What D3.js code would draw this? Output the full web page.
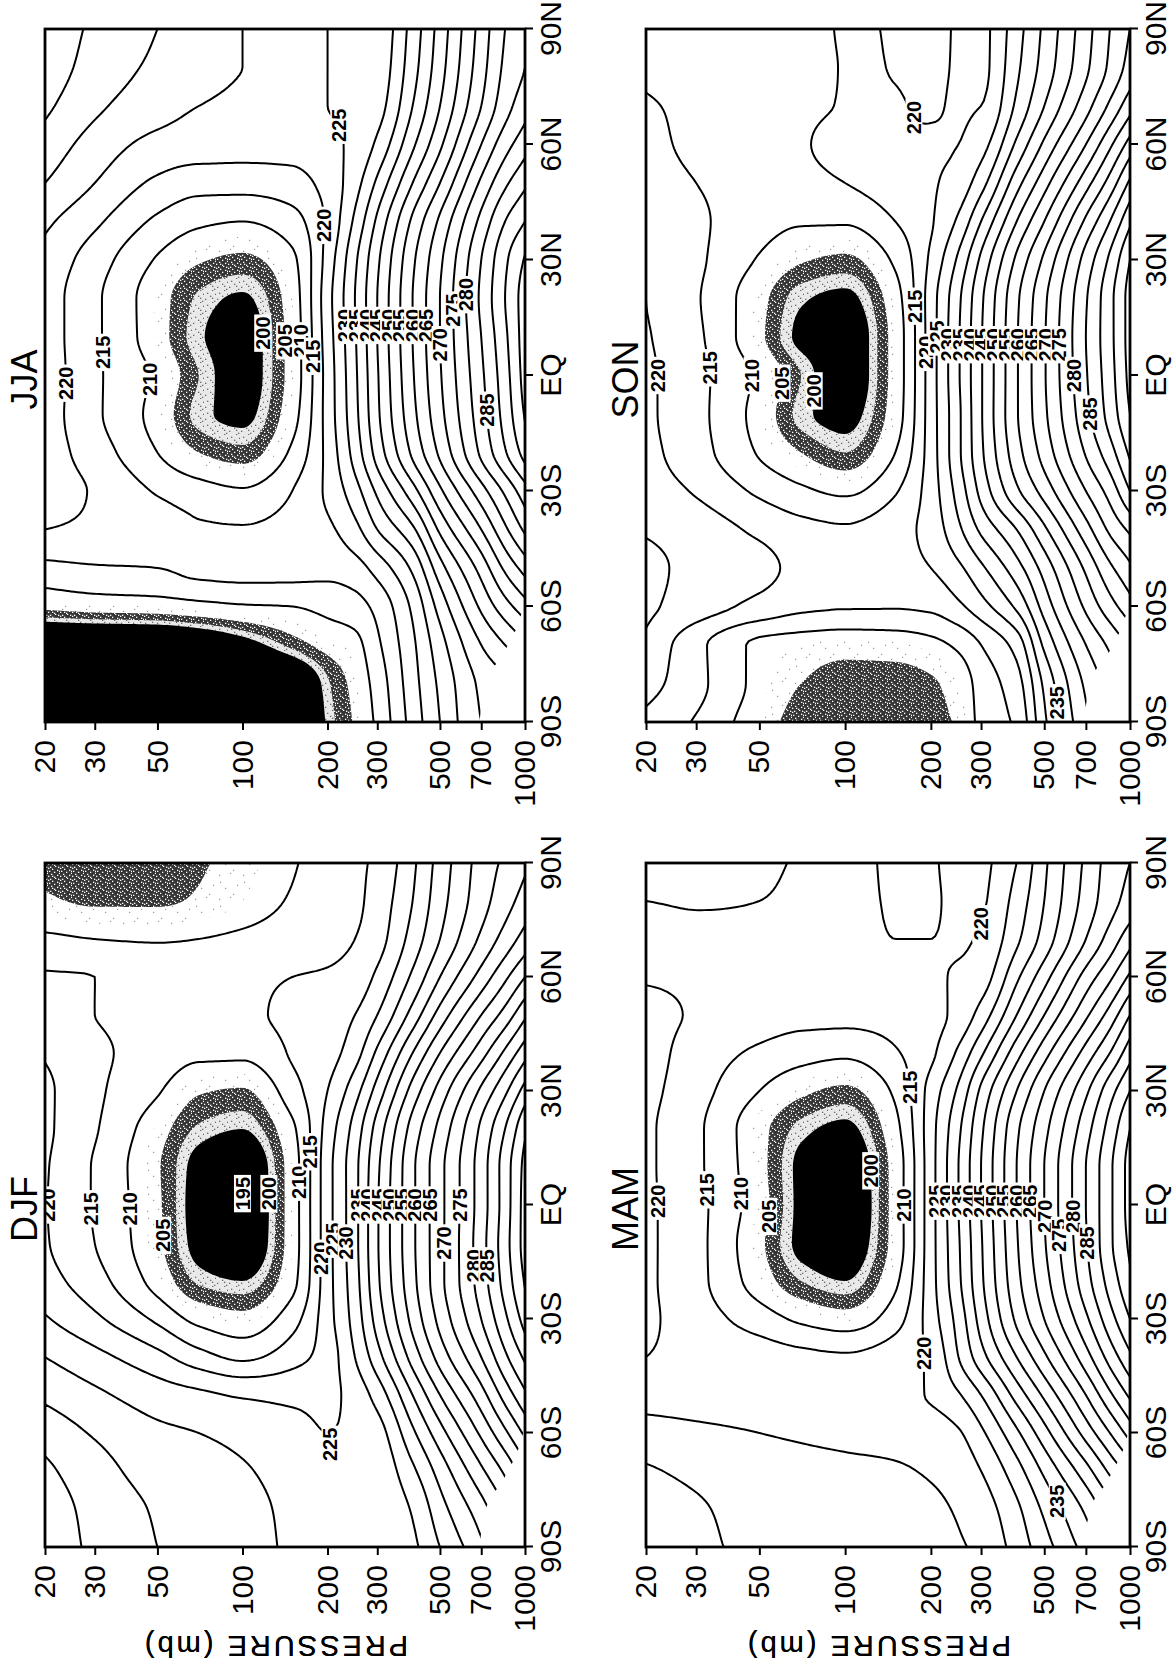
<!DOCTYPE html>
<html><head><meta charset="utf-8">
<script src="https://cdn.jsdelivr.net/npm/d3@7"></script>
<style>html,body{margin:0;padding:0;background:#fff;}svg{display:block;}</style>
</head><body>
<script>
// ---------------- DATA ----------------
const pressures = [1000, 850, 700, 500, 400, 300, 250, 200, 150, 100, 70, 50, 30, 20];
const latitudes = [-90,-80,-70,-60,-50,-40,-30,-20,-10,0,10,20,30,40,50,60,70,80,90];
const pressureTicks = [1000, 700, 500, 300, 200, 100, 50, 30, 20];
const latTicks = [-90, -60, -30, 0, 30, 60, 90];
const latTickLabels = ["90S", "60S", "30S", "EQ", "30N", "60N", "90N"];
const seasonNames = ["DJF", "JJA", "MAM", "SON"];
const contourLevels = [210,215,220,225,230,235,240,245,250,255,260,265,270,275,280,285,290,295,300,305];
const shadeLevels = [207.5, 205, 202, 200];
// below-ground (Antarctic) region left blank
const maskLat = [-90, -84, -80, -76, -74, -70, -66, -62, -58];
const maskPressure = [690, 705, 725, 765, 815, 870, 930, 970, 1000];

// zonal mean temperature (K): one profile per latitude (90S..90N), values at `pressures`
const tempDJF = [
 [257,251,244,235,229,225.8,225.3,226.3,229,232,233.5,235,239,243],
 [262,255,248,238,230.5,226,225.4,226.2,228.8,231.5,233,234.5,238.5,242.5],
 [268,261,254,242,234,226.5,225.3,225.8,228,230.5,232,233,237,241],
 [276,269,261,248,239,228,225.8,225,226.5,228.5,230,231,234.5,238],
 [284,277,268,255,245,232,227,224,224,224.5,226,227.5,231,234],
 [291,284,275,262,252,238,230,222.5,218,214,217,221.5,226.5,230],
 [297,289,280,266.5,256.5,242,232,223,213,206.5,208.5,214,221,225.5],
 [300.5,292,282.5,268.5,258.5,244,233,223,208.5,200,201.5,208,217,222],
 [302,293,283,268.5,259,244.5,233.5,223,207.5,196,198.5,206,215,220.5],
 [302,292.5,282.5,268.5,259,244.5,233.5,223,207.5,195.5,198,205.8,214.5,220.3],
 [301.5,292.5,282.5,268.5,259,244,233.5,223,207.5,196,198.5,205.5,214.5,220.5],
 [299,290,281,266.5,257,242,232,222,209,200,201.5,207,215.5,221],
 [292,284,276,262,252,237,228,220,213,204.5,205.5,210.5,216,221],
 [283,276,268,255,245,231,223,218,215.5,211,211,213,216,219.5],
 [274,267,260,247,237,225,220,217,216,214,213,213.5,215,217],
 [265,259,252,240,231,221,217,215.5,215,214,213.5,214,215,215.5],
 [257,252,246,235,227,218,215,213.5,212.5,211,210,209.5,210,211],
 [252,248,243,233,225,217,214,212.5,210.5,207.5,205.5,204.5,204.5,205.5],
 [249,246,242,232,224,216,214,212.5,209.5,206.5,204.5,203,203,204]
];
const tempJJA = [
 [244,242,240,230,222,211,205.5,200.5,191,187.5,186.5,186,186,186],
 [246,244,241,231,223,212,206.5,201.5,193,189,188,187,187,187],
 [254,250,245,233,224,214,208.5,206.5,203,197.5,194,192,191.5,191],
 [263,258,251,237,226,216.5,213,211.5,210,209.5,208.5,207.5,207,206],
 [272,266,257,243,231,222,218,216.5,216.5,216.5,216,215,214.5,213.5],
 [281,274,265,251,239,230,223.5,219,216.5,215.3,215.5,217.5,219,220],
 [288,281,273,259,248,236,228,221,215,210.5,212,214.5,219.5,222.5],
 [297,289.5,281,266,256,242,232,221.5,211,203,205,210,217.5,222.5],
 [300.5,292,283,268.5,258.5,244,233.5,222,208,199,201,208,216,222.5],
 [302,293,284,269.5,259.5,244.5,234,222,207,198,202,209,216,223],
 [302.5,294,285,270,260,245,234.5,222.5,207,198,200.5,207,216,222.5],
 [302.5,295,286,270,260,245,235,223,207.5,199.5,201.5,207,216,222.5],
 [300.5,294,285,269,259,244,234,222,209,204,205.5,209.5,217.5,223.5],
 [295,290,281.5,266,256,241,231,221,213,210,211,214,221,226],
 [289,284,276,260,250,236,228,222,218,217,217,219,225,230],
 [283,278,270,254,244,231,226,224,222,222,222.5,223.5,228,233],
 [278,273,265,250,240,228,225.5,225,224,224,225,227,231,236],
 [275,271,263,248,238,227,225.5,225,224.5,225,227,229,233,238],
 [274,270,262,247,237,226.5,225.5,225,224.5,225,227,230,234,239]
];
const tempMAM = [
 [247,243,237,228,222,216,214.5,213,212.5,212,211.5,211,209,207],
 [253,248,241,231,224,217.5,215.5,214,213,212.5,212,211.5,209.5,208],
 [262,256,248,236,228,220,217,215.5,214.5,214,213.5,213,211,209.5],
 [272,265,257,243,234,224,219.5,217.5,216.5,216,215.5,215,214,213],
 [281,274,265,251,242,230,224.5,220.5,218.5,217.5,217,217,217,217],
 [289,282,273,259,250,238,230,221,217.5,215.5,216,217,218.5,220],
 [295,288,279,265,256,242,232,222.5,213,207,209,212.5,217.5,221],
 [299,292,283,268,258.5,244,234,223,209,200,202,207.5,216.5,221],
 [301,294,284.5,269.5,259.5,244.5,234.5,223,207,197,199,206,216.5,221],
 [302,294,285,270,260,245,235,223,207,196,199,207,216.5,221],
 [302,294,285,270,260,245,235,223,207,196.5,199,206.5,216,221],
 [300,292,283,268.5,259,244,234,223,208.5,199,201,206.5,216,221],
 [295,288,279,265,255,241,231,222,211,204,206,210,217,221.5],
 [288,280,272,258,248,234,226,219,214.5,211,212,214,218,222],
 [280,272,264,250,240,227,221.5,218.5,217,216.5,216.5,217.5,219.5,221.5],
 [271,264,257,243,234,222.5,220.5,219.5,219,218.5,218,218.5,219,219.5],
 [263,257,250,237,229,220.5,219.5,220,220,218,217,216.5,216.5,217],
 [257,253,247,235,227,219.5,219,220.5,220.5,217.5,216,215,214.5,215],
 [255,252,246,234,225,219,218.5,220.5,221,217,215.5,214,212,211]
];
const tempSON = [
 [255,250,244,229,216,211.5,205.6,203.8,203,202.5,203.5,207,214.5,218.5],
 [257,252,246,231,218,212,207,204.5,203.5,203.5,205,208.5,216.5,222],
 [261,256,250,236,222,215,211,208.5,207,206.5,207.5,209,216.5,224],
 [268,263,256,242,231,223,219,216,215.3,215.3,216,218.5,222.5,226],
 [274,269,261,247,238,229,224,220,218,217,218.5,221.5,223.5,226.5],
 [281,276,268,254,245,236,229,222,218,215.5,216.5,219,222.5,224.5],
 [290,282,275,262,254,241.5,232,222.5,214.5,209,211,214,219.5,222.5],
 [296,288,280.5,267,258,244,234,222.5,210,202,205,209.5,217,221.5],
 [300,292,283.5,269,259.5,244.5,234,222.5,207.5,198.5,201,208,216.5,221],
 [301.5,293,284.5,269.5,259.5,244.5,234.5,222.5,207,197,202,209,216.5,221],
 [302,293.5,285,269.5,259.5,244.5,234.5,222.5,207,197,199,206,216,220.5],
 [302,293.5,284.5,269,259,244,234,222.5,208,199,200.5,206.5,215.5,220],
 [300,291,282,266,256,241,231,221,211,204,205.5,209.5,216,220],
 [294,285,276,260,250,235,226,219.5,215,210.5,210.5,212,216,219.5],
 [286,277,268,253,243,228,222,219.5,218,215,213.5,213,215,218],
 [277,269,260,246,236,223,220,219.5,219.5,217,214.5,213,214,216.5],
 [268,261,253,240,231,220,219.5,220.5,219.5,215.5,214,213.5,214,215.5],
 [262,256,249,237,229,219,219.5,221,220.5,215.5,213,212,212.5,214],
 [260,255,248,236,228,219,219.5,221.5,221,216,212.5,211,211.5,213]
];

// contour labels: [value, latitude, approx. pressure]
const labelsDJF = [[220,0,20.5],[215,-1,29],[210,-1,40],[205,-8,52],[195,3,100],[200,3,123],[210,6,160],[215,14,180],[220,-14,196],[225,-9,209],[230,-10,244],[235,0,262],[240,0,295],[245,0,328],[250,0,361],[255,0,392],[260,0,418],[265,0,460],[270,-10,520],[275,0,589],[280,-16,666],[285,-16,739],[225,-63,204]];
const labelsJJA = [[220,-2,25],[215,6,35],[210,-1,49],[200,11,118],[205,9,139],[210,9,159],[215,5,180],[220,39,203],[225,65,277],[230,13,236],[235,13,262],[240,13,290],[245,13,322],[250,13,355],[255,13,390],[260,13,425],[265,13,460],[270,8,494],[275,17,539],[280,21,612],[285,-9,696]];
const labelsMAM = [[220,1,21],[215,4,32],[210,3,42],[205,-3,53],[200,9,120],[210,0,156],[215,31,179],[220,-39,190],[220,74,280],[235,-78,535],[225,1,220],[230,1,245],[235,1,268],[240,1,295],[245,1,325],[250,1,360],[255,1,392],[260,1,425],[265,1,460],[270,-3,500],[275,-8,560],[280,-3,640],[285,-10,720]];
const labelsSON = [[220,0,22],[215,2,35],[210,0,47],[205,-2,60],[200,-4,77],[215,18,180],[220,6,198],[225,10,215],[220,67,126],[235,-85,553],[230,8,245],[235,8,268],[240,8,295],[245,8,325],[250,8,358],[255,8,392],[260,8,425],[265,8,460],[270,8,500],[275,8,560],[280,0,640],[285,-10,720]];

// ---------------- LAYOUT (landscape page, rotated onto the portrait sheet) ----------------
const panels = [
  {name: seasonNames[0], data: tempDJF, labels: labelsDJF, u0: 123, u1: 807, v0: 45, v1: 525},
  {name: seasonNames[1], data: tempJJA, labels: labelsJJA, u0: 948, u1: 1641, v0: 45, v1: 525},
  {name: seasonNames[2], data: tempMAM, labels: labelsMAM, u0: 123, u1: 807, v0: 646, v1: 1130},
  {name: seasonNames[3], data: tempSON, labels: labelsSON, u0: 948, u1: 1641, v0: 646, v1: 1130}
];

const svg = d3.select("body").append("svg").attr("width", 1172).attr("height", 1670);
svg.append("rect").attr("width", 1172).attr("height", 1670).attr("fill", "#fff");
const defs = svg.append("defs");

function pattern(id, base, dot, pts, size, r) {
  const p = defs.append("pattern").attr("id", id).attr("patternUnits", "userSpaceOnUse")
    .attr("width", size).attr("height", size);
  p.append("rect").attr("width", size).attr("height", size).attr("fill", base);
  pts.forEach(([a, b]) => p.append("rect").attr("x", a).attr("y", b).attr("width", r).attr("height", r).attr("fill", dot));
}
const speck12 = [[1,0],[6,1],[10,2],[3,3],[8,4],[0,6],[5,6],[11,7],[2,9],[7,9],[10,10],[4,11],[9,0],[1,4],[6,11]];
pattern("stipSparse", "#ffffff", "#9a9a9a", [[2,3],[13,9],[7,17],[19,4],[16,21],[4,14]], 24, 1.2);
pattern("stipDark", "#353535", "#ffffff", speck12, 12, 1.3);
pattern("stipLight", "#e9e9e9", "#6a6a6a", [[2,1],[8,3],[5,6],[11,8],[0,10],[7,11],[3,8]], 12, 1.3);

const root = svg.append("g").attr("transform", "translate(0,1670) rotate(-90)");

function pchip(xs, ys) {
  const n = xs.length, h = [], d = [], m = new Array(n);
  for (let i = 0; i < n - 1; i++) { h[i] = xs[i+1] - xs[i]; d[i] = (ys[i+1] - ys[i]) / h[i]; }
  m[0] = d[0]; m[n-1] = d[n-2];
  for (let i = 1; i < n - 1; i++) {
    if (d[i-1] * d[i] <= 0) m[i] = 0;
    else { const w1 = 2*h[i] + h[i-1], w2 = h[i] + 2*h[i-1]; m[i] = (w1 + w2) / (w1/d[i-1] + w2/d[i]); }
  }
  return x => {
    let i = d3.bisectRight(xs, x) - 1; i = Math.max(0, Math.min(n - 2, i));
    const t = (x - xs[i]) / h[i], t2 = t*t, t3 = t2*t;
    return (2*t3 - 3*t2 + 1)*ys[i] + (t3 - 2*t2 + t)*h[i]*m[i] + (-2*t3 + 3*t2)*ys[i+1] + (t3 - t2)*h[i]*m[i+1];
  };
}

const NX = 181, NY = 150;
const zTop = -Math.log(20), zBot = -Math.log(1000);
function buildGrid(data) {
  const zs = pressures.map(p => -Math.log(p));
  const cols = latitudes.map((lat, i) => pchip(zs, data[i]));
  const fine = new Float64Array(NX * NY);
  for (let j = 0; j < NY; j++) {
    const z = zTop - j * (zTop - zBot) / (NY - 1);
    const rf = pchip(latitudes, cols.map(f => f(z)));
    for (let i = 0; i < NX; i++) fine[j*NX + i] = rf(-90 + i * 180 / (NX - 1));
  }
  return fine;
}
function gridToData(gx, gy) {
  const fi = Math.max(0, Math.min(NX - 1, gx - 0.5));
  const fj = Math.max(0, Math.min(NY - 1, gy - 0.5));
  return [-90 + fi * 180 / (NX - 1), Math.exp(-(zTop - fj * (zTop - zBot) / (NY - 1)))];
}

const tickFont = "'Liberation Sans Narrow', 'Liberation Sans', Arial, sans-serif";

panels.forEach((P, k) => {
  const x = d3.scaleLinear().domain([-90, 90]).range([P.u0, P.u1]);
  const y = d3.scaleLog().domain([1000, 20]).range([P.v1, P.v0]);
  const g = root.append("g");
  const clipId = "clip" + k;
  defs.append("clipPath").attr("id", clipId).append("rect")
    .attr("x", P.u0).attr("y", P.v0).attr("width", P.u1 - P.u0).attr("height", P.v1 - P.v0);
  const inner = g.append("g").attr("clip-path", `url(#${clipId})`);
  const fine = buildGrid(P.data);
  const path = d3.geoPath(d3.geoTransform({
    point(gx, gy) { const [la, p] = gridToData(gx, gy); this.stream.point(x(la), y(p)); }
  }));

  const neg = fine.map(v => -v);
  const fills = d3.contours().size([NX, NY]).thresholds(shadeLevels.map(v => -v))(neg);
  const fillStyle = ["url(#stipSparse)", "url(#stipDark)", "url(#stipLight)", "#000"];
  inner.selectAll("path.fill").data(fills).join("path").attr("class", "fill")
    .attr("d", path).attr("fill", (d, i) => fillStyle[i]).attr("stroke", "none");

  const lines = d3.contours().size([NX, NY]).thresholds(contourLevels)(fine);
  inner.selectAll("path.iso").data(lines).join("path").attr("class", "iso")
    .attr("d", path).attr("fill", "none").attr("stroke", "#000").attr("stroke-width", 2)
    .attr("stroke-linejoin", "round");

  const maskPts = maskLat.map((la, i) => [x(la), y(maskPressure[i])]);
  maskPts.push([x(maskLat[maskLat.length - 1]), y(1000)], [x(-90), y(1000)]);
  inner.append("path").attr("d", d3.line()(maskPts) + "Z").attr("fill", "#fff");

  P.labels.forEach(([val, lat, pa]) => {
    const i = Math.round((lat + 90) * (NX - 1) / 180);
    const za = -Math.log(pa);
    let best = null, bestD = Infinity;
    for (let j = 0; j < NY - 1; j++) {
      const a = fine[j*NX + i] - val, b = fine[(j+1)*NX + i] - val;
      if (a === 0 || a * b < 0) {
        const fj = j + a / (a - b);
        const z = zTop - fj * (zTop - zBot) / (NY - 1);
        const dd = Math.abs(z - za);
        if (dd < bestD && dd < 0.35) { bestD = dd; best = Math.exp(-z); }
      }
    }
    const pp = best || pa;
    const lg = inner.append("g").attr("transform", `translate(${x(lat)},${y(pp)})`);
    const t = lg.append("text").text(val).attr("text-anchor", "middle").attr("dy", "0.36em")
      .attr("font-family", tickFont).attr("font-weight", "bold").attr("font-size", 20).attr("fill", "#000");
    const w = t.node().getComputedTextLength();
    lg.insert("rect", "text").attr("x", -w/2 - 2).attr("y", -8.5).attr("width", w + 4).attr("height", 17).attr("fill", "#fff");
  });

  g.append("rect").attr("x", P.u0).attr("y", P.v0).attr("width", P.u1 - P.u0).attr("height", P.v1 - P.v0)
    .attr("fill", "none").attr("stroke", "#000").attr("stroke-width", 2.8);

  const ax = g.append("g").attr("transform", `translate(0,${P.v1})`)
    .call(d3.axisBottom(x).tickValues(latTicks).tickFormat((d, i) => latTickLabels[i]).tickSize(8).tickPadding(7));
  const ay = g.append("g").attr("transform", `translate(${P.u0},0)`)
    .call(d3.axisLeft(y).tickValues(pressureTicks).tickFormat(d3.format("d")).tickSize(8).tickPadding(10));
  [ax, ay].forEach(a => {
    a.select(".domain").remove();
    a.selectAll("line").attr("stroke", "#000").attr("stroke-width", 2);
    a.selectAll("text").attr("font-family", tickFont).attr("font-size", 30).attr("fill", "#000");
  });

  g.append("text").attr("transform", `translate(24,${(P.v0 + P.v1)/2 - 10}) rotate(-90)`)
    .attr("text-anchor", "middle").attr("dy", "0.35em")
    .attr("font-family", "'Liberation Sans', Arial, sans-serif").attr("font-size", 29).attr("letter-spacing", 3)
    .text("PRESSURE (mb)");

  g.append("text").attr("x", (P.u0 + P.u1)/2 - 4).attr("y", P.v0 - 8)
    .attr("text-anchor", "middle").attr("font-family", "'Liberation Sans', Arial, sans-serif")
    .attr("font-size", 36).text(P.name);
});
</script>
</body></html>
